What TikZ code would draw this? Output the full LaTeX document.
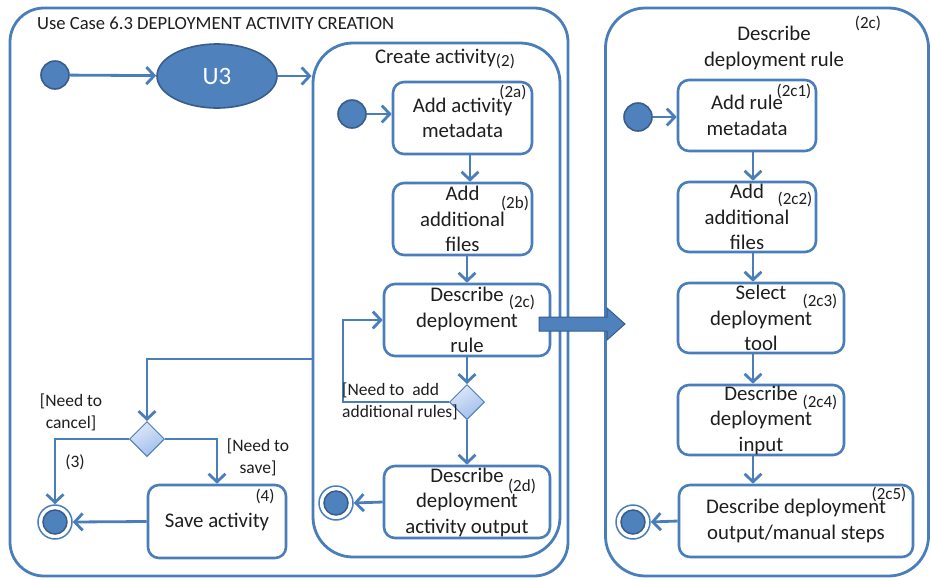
\documentclass[tikz,border=0pt]{standalone}
\usepackage{fontspec}
\setmainfont{Carlito}
\usetikzlibrary{arrows.meta,shapes.geometric,calc}
\definecolor{lineblue}{RGB}{74,126,187}
\definecolor{nodeblue}{RGB}{79,129,189}
\definecolor{darkblue}{RGB}{56,93,138}
\definecolor{txt}{RGB}{30,30,30}
\definecolor{dlight}{RGB}{222,232,248}
\definecolor{ddark}{RGB}{160,190,235}
\newcommand{\mainf}{\fontsize{20.8}{25.5}\selectfont}
\newcommand{\smallf}{\fontsize{17}{19}\selectfont}
\newcommand{\guardf}{\fontsize{17.5}{22}\selectfont}
\tikzset{
  x=1pt, y=-1pt,
  >={Straight Barb[length=8pt,width=17pt]},
  conn/.style={->, draw=lineblue, line width=2.8pt},
  frame/.style={draw=lineblue, line width=2.8pt, rectangle, rounded corners=#1, inner sep=0pt},
  actbox/.style={draw=lineblue, line width=2.6pt, rectangle, rounded corners=11pt, fill=white,
     align=center, inner sep=0pt, text=txt, font=\mainf},
  startnode/.style={circle, fill=nodeblue, draw=darkblue, line width=1.6pt, minimum size=28pt, inner sep=0pt},
  finnode/.style={circle, fill=white, draw=lineblue, line width=1.5pt, minimum size=34pt, inner sep=0pt,
     path picture={\fill[nodeblue, draw=darkblue, line width=1.5pt] (path picture bounding box.center) circle (12pt);}},
  decis/.style={diamond, draw=lineblue, line width=1pt, minimum width=35pt, minimum height=35pt, inner sep=0pt,
     shading=axis, top color=dlight, bottom color=ddark, shading angle=30},
  lbl/.style={text=txt, font=\smallf, inner sep=0pt},
  guard/.style={text=txt, font=\guardf, inner sep=0pt, align=left},
}
\begin{document}
\begin{tikzpicture}
\useasboundingbox (0,0) rectangle (931,579);
% frames
\node[frame=34pt, minimum width=558pt, minimum height=568pt] (outerL) at (289,292) {};
\node[frame=40pt, minimum width=247pt, minimum height=514pt] (create) at (436.5,300) {};
\node[frame=40pt, minimum width=323pt, minimum height=568pt] (outerR) at (767,292) {};
% titles
\node[text=txt, font=\fontsize{18.6}{20}\selectfont, anchor=west, inner sep=0pt] (title) at (37,23) {Use Case 6.3 DEPLOYMENT ACTIVITY CREATION};
\node[text=txt, font=\mainf, inner sep=0pt] (ctitle) at (445,59) {Create activity\raisebox{-3pt}{\smallf(2)}};
\node[text=txt, font=\mainf, align=center, inner sep=0pt] (rtitle) at (774,48) {Describe\\deployment rule};
\node[lbl] (l2cR) at (868,23) {(2c)};
% left part
\node[startnode] (init1) at (55,75) {};
\node[ellipse, fill=nodeblue, draw=darkblue, line width=1.6pt, minimum width=120pt, minimum height=64pt,
      text=white, font=\fontsize{25}{25}\selectfont] (u3) at (217,76) {U3};
\draw[conn] (init1) -- (u3);
\draw[conn] (u3) -- (u3 -| create.west);
% create activity
\node[startnode] (init2) at (352,114) {};
\node[actbox, minimum width=139pt, minimum height=72pt] (b2a) at (462.5,118) {Add activity\\metadata};
\node[actbox, minimum width=139pt, minimum height=72pt] (b2b) at (462.5,219) {Add\\additional\\files};
\node[actbox, minimum width=166pt, minimum height=72pt] (b2c) at (467,320) {Describe\\deployment\\rule};
\node[decis] (d2) at (467,402) {};
\node[actbox, minimum width=166pt, minimum height=72pt] (b2d) at (467,502) {Describe\\deployment\\activity output};
\node[finnode] (fin2) at (336,503) {};
\node[lbl] at (513,92) {(2a)};
\node[lbl] at (515,203) {(2b)};
\node[lbl] at (522,302) {(2c)};
\node[lbl] at (522,486) {(2d)};
\coordinate (xa) at (470,0);
\draw[conn] (init2.east) -- (init2.east -| b2a.west);
\draw[conn] (b2a.south -| xa) -- (b2b.north -| xa);
\draw[conn] (b2b.south -| b2c.north) -- (b2c.north);
\draw[conn] (b2c.south) -- (d2.north);
\draw[conn] (d2.south) -- (b2d.north);
\draw[conn] (b2d.west) -- (fin2.east);
\coordinate (loopx) at (343,0);
\draw[conn] (d2.west) -- (d2.west -| loopx) |- (b2c.west);
\node[guard, anchor=west] (gadd) at (342,401) {[Need to\ \ add\\additional rules]};
% lower left
\coordinate (cfL) at (313,359);
\node[decis] (d1) at (147,439) {};
\node[finnode] (fin1) at (55,522) {};
\node[actbox, minimum width=138pt, minimum height=73pt] (save) at (217,521.5) {Save activity};
\node[lbl] at (265,496) {(4)};
\draw[conn] (cfL) -| (d1.north);
\draw[conn] (d1.west) -| (fin1.north);
\draw[conn] (d1.east) -| (save.north);
\draw[conn] (save.west) -- (fin1.east);
\node[guard, align=center] (gcancel) at (71,412) {[Need to\\cancel]};
\node[guard, align=center] (gsave) at (258,457) {[Need to\\save]};
\node[lbl, font=\guardf] at (75,462) {(3)};
% block arrow
\fill[nodeblue, draw=darkblue, line width=1pt] (539,317) -- (607,317) -- (607,308) -- (625,324) -- (607,340) -- (607,331) -- (539,331) -- cycle;
% right part
\node[startnode] (init3) at (638,117) {};
\node[actbox, minimum width=138pt, minimum height=71pt] (c1) at (747,115.5) {Add rule\\metadata};
\node[actbox, minimum width=138pt, minimum height=70pt] (c2) at (747,217) {Add\\additional\\files};
\node[actbox, minimum width=166pt, minimum height=70pt] (c3) at (761,318) {Select\\deployment\\tool};
\node[actbox, minimum width=166pt, minimum height=70pt] (c4) at (761,420) {Describe\\deployment\\input};
\node[actbox, minimum width=234pt, minimum height=72pt] (c5) at (796,521) {Describe deployment\\output/manual steps};
\node[finnode] (fin3) at (633,522) {};
\node[lbl] at (794,91) {(2c1)};
\node[lbl] at (795,199) {(2c2)};
\node[lbl] at (820,301) {(2c3)};
\node[lbl] at (820,402) {(2c4)};
\node[lbl] at (889,494) {(2c5)};
\coordinate (xr) at (753,0);
\draw[conn] (init3.east) -- (init3.east -| c1.west);
\draw[conn] (c1.south -| xr) -- (c2.north -| xr);
\draw[conn] (c2.south -| xr) -- (c3.north -| xr);
\draw[conn] (c3.south -| xr) -- (c4.north -| xr);
\draw[conn] (c4.south -| xr) -- (c5.north -| xr);
\draw[conn] (c5.west) -- (fin3.east);
\end{tikzpicture}
\end{document}
